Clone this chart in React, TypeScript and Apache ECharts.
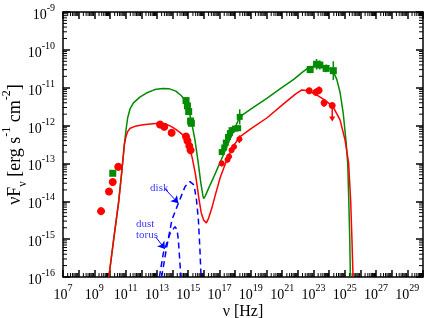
import React, { useEffect, useRef } from "react";
import * as echarts from "echarts";

// axis ranges (log10 of nu [Hz] and log10 of nuF_nu)
const X_MIN = 7;
const X_MAX = 30;
const Y_MIN = -16;
const Y_MAX = -9;

// observed data: [log10 nu, log10 nuFnu]
const redRadio = [[9.43, -14.26], [9.94, -13.74], [10.18, -13.49], [10.53, -13.09]];
const greenRadio = [[10.18, -13.26]];
const redOptical = [[13.2, -11.97], [13.47, -12.03], [13.94, -12.19], [14.86, -12.29], [14.95, -12.4], [15.07, -12.54], [15.15, -12.65]];
const greenOptical = [[14.86, -11.34], [14.95, -11.48], [15.03, -11.63], [15.15, -11.88], [15.2, -11.94]];
// [log nu, log nuFnu, x error, y error]
const redXray = [[17.14, -13.0, 0.05, 0.08], [17.51, -12.9, 0.05, 0.08], [17.61, -12.82, 0.05, 0.08], [17.77, -12.65, 0.05, 0.08], [17.93, -12.56, 0.05, 0.08], [18.27, -12.36, 0.05, 0.1]];
const greenXray = [[17.14, -12.7, 0.05, 0.08], [17.3, -12.58, 0.05, 0.08], [17.4, -12.45, 0.05, 0.08], [17.54, -12.3, 0.05, 0.08], [17.66, -12.2, 0.05, 0.08], [17.77, -12.12, 0.05, 0.08], [17.98, -12.08, 0.05, 0.08], [18.19, -12.07, 0.05, 0.08], [18.29, -11.77, 0.05, 0.2]];
const redGamma = [[22.73, -11.08, 0.125, 0.08], [23.15, -11.12, 0.125, 0.1], [23.36, -11.07, 0.125, 0.1], [23.68, -11.4, 0.125, 0.1]];
const redGammaUL = [[24.2, -11.47, 0.125, 0.42]];
const greenGamma = [[22.79, -10.52, 0.125, 0.1], [23.2, -10.38, 0.125, 0.14], [23.41, -10.4, 0.125, 0.12], [23.81, -10.49, 0.125, 0.1], [24.27, -10.55, 0.125, 0.25]];

// models
const greenModel = [[9.93, -16.0], [10.24, -15.0], [10.56, -14.0], [10.76, -13.2], [10.92, -12.5], [11.03, -12.1], [11.13, -11.8], [11.29, -11.55], [11.5, -11.4], [11.91, -11.25], [12.33, -11.14], [12.86, -11.05], [13.38, -11.02], [13.8, -11.03], [14.21, -11.09], [14.53, -11.2], [14.79, -11.32], [15.0, -11.55], [15.21, -11.9], [15.42, -12.35], [15.63, -12.95], [15.8, -13.5], [15.94, -13.86], [15.99, -13.93], [16.1, -13.85], [16.3, -13.66], [16.62, -13.37], [16.83, -13.17], [17.25, -12.77], [17.66, -12.37], [17.98, -12.07], [18.29, -11.77], [19.02, -11.56], [20.02, -11.28], [20.91, -11.02], [21.74, -10.78], [22.26, -10.6], [22.58, -10.5], [23.0, -10.43], [23.41, -10.4], [23.83, -10.44], [24.25, -10.56], [24.49, -10.78], [24.7, -11.12], [24.91, -11.7], [25.09, -12.45], [25.19, -13.0], [25.26, -14.0], [25.32, -15.0], [25.36, -16.0]];
const redModel = [[9.93, -16.0], [10.24, -15.0], [10.56, -14.0], [10.76, -13.2], [10.92, -12.5], [11.03, -12.28], [11.13, -12.16], [11.29, -12.07], [11.6, -12.02], [12.12, -11.98], [12.75, -11.95], [13.2, -11.94], [13.59, -11.96], [13.9, -12.02], [14.21, -12.1], [14.53, -12.2], [14.84, -12.32], [15.05, -12.52], [15.26, -12.86], [15.47, -13.3], [15.68, -13.92], [15.83, -14.3], [15.99, -14.5], [16.16, -14.57], [16.3, -14.45], [16.51, -14.18], [16.72, -13.85], [17.04, -13.38], [17.45, -12.92], [17.87, -12.55], [18.29, -12.3], [19.13, -12.05], [20.02, -11.8], [21.11, -11.42], [21.85, -11.17], [22.26, -11.06], [22.68, -11.08], [23.2, -11.19], [23.73, -11.33], [24.25, -11.5], [24.7, -11.85], [25.02, -12.38], [25.25, -13.0], [25.38, -14.0], [25.46, -15.0], [25.53, -16.0]];
const diskModel = [[13.3, -16.0], [13.63, -15.2], [13.96, -14.49], [14.37, -14.05], [14.8, -13.61], [15.11, -13.48], [15.37, -13.57], [15.53, -13.97], [15.65, -14.49], [15.75, -15.29], [15.82, -16.0]];
const torusModel = [[13.16, -16.0], [13.41, -15.37], [13.84, -14.85], [14.16, -14.67], [14.29, -14.76], [14.37, -15.02], [14.53, -16.0]];

// annotations
const annotationLabels = [
  { name: "disk", value: [12.56, -13.61] },
  { name: "dust\ntorus", value: [11.66, -14.71] },
];
const annotationArrows = [
  [[13.53, -13.68], [14.37, -14.05]],
  [[12.94, -14.95], [13.51, -15.26]],
];

const RED = "#ff0000";
const GREEN = "#008b00";
const BLUE = "#0000ff";
const SERIF = "'Liberation Serif', 'DejaVu Serif', serif";

const minorX: number[][] = [];
for (let n = X_MIN; n < X_MAX; n++) for (let k = 2; k <= 9; k++) minorX.push([n + Math.log10(k), Y_MIN]);
const minorY: number[][] = [];
for (let n = Y_MIN; n < Y_MAX; n++) for (let k = 2; k <= 9; k++) minorY.push([X_MIN, n + Math.log10(k)]);

const tickRich = {
  b: { fontSize: 14, fontFamily: SERIF, color: "#000", padding: [5, 0, 0, 0] },
  s: { fontSize: 10, fontFamily: SERIF, color: "#000", verticalAlign: "top" },
};

function minorRender(axis: "x" | "y") {
  return (params: any, api: any) => {
    const cs = params.coordSys;
    const p = api.coord([api.value(0), api.value(1)]);
    const st = { stroke: "#000", lineWidth: 1 };
    if (axis === "x") {
      const yb = cs.y + cs.height;
      const yt = cs.y;
      return {
        type: "group",
        children: [
          { type: "line", shape: { x1: p[0], y1: yb, x2: p[0], y2: yb - 4 }, style: st },
          { type: "line", shape: { x1: p[0], y1: yt, x2: p[0], y2: yt + 4 }, style: st },
        ],
      };
    }
    const xl = cs.x;
    const xr = cs.x + cs.width;
    return {
      type: "group",
      children: [
        { type: "line", shape: { x1: xl, y1: p[1], x2: xl + 4, y2: p[1] }, style: st },
        { type: "line", shape: { x1: xr, y1: p[1], x2: xr - 4, y2: p[1] }, style: st },
      ],
    };
  };
}

function errRender(color: string) {
  return (_params: any, api: any) => {
    const x = api.value(0), y = api.value(1), xe = api.value(2), ye = api.value(3);
    const l = api.coord([x - xe, y]);
    const r = api.coord([x + xe, y]);
    const b = api.coord([x, y - ye]);
    const t = api.coord([x, y + ye]);
    const st = { stroke: color, lineWidth: 1.5 };
    return {
      type: "group",
      children: [
        { type: "line", shape: { x1: l[0], y1: l[1], x2: r[0], y2: r[1] }, style: st },
        { type: "line", shape: { x1: b[0], y1: b[1], x2: t[0], y2: t[1] }, style: st },
      ],
    };
  };
}

function ulRender(color: string) {
  return (_params: any, api: any) => {
    const x = api.value(0), y = api.value(1), xe = api.value(2), len = api.value(3);
    const p0 = api.coord([x, y]);
    const p1 = api.coord([x, y - len]);
    const l = api.coord([x - xe, y]);
    const r = api.coord([x + xe, y]);
    const st = { stroke: color, lineWidth: 1.5 };
    return {
      type: "group",
      children: [
        { type: "line", shape: { x1: l[0], y1: l[1], x2: r[0], y2: r[1] }, style: st },
        { type: "line", shape: { x1: p0[0], y1: p0[1], x2: p1[0], y2: p1[1] - 3 }, style: st },
        { type: "polygon", shape: { points: [[p1[0] - 3, p1[1] - 5], [p1[0] + 3, p1[1] - 5], [p1[0], p1[1]]] }, style: { fill: color } },
      ],
    };
  };
}

const axisCommon = {
  type: "value",
  splitLine: { show: false },
  axisLine: { show: true, onZero: false, lineStyle: { color: "#000", width: 1.5 } },
  axisTick: { show: true, inside: true, length: 7, lineStyle: { color: "#000", width: 1.5 } },
};

export default function App() {
  const ref = useRef<HTMLDivElement>(null);
  useEffect(() => {
    if (!ref.current) return;
    const chart = echarts.init(ref.current, undefined, { renderer: "svg" });
    const lineSeries = (data: number[][], color: string, dashed = false) => ({
      type: "line",
      data,
      symbol: "none",
      showSymbol: false,
      clip: true,
      lineStyle: { color, width: 1.5, type: dashed ? [6, 4] : "solid" },
      silent: true,
      z: 2,
    });
    const scatter = (data: number[][], color: string, symbol: string, size: number) => ({
      type: "scatter",
      data: data.map((d) => [d[0], d[1]]),
      symbol,
      symbolSize: size,
      itemStyle: { color, opacity: 1 },
      silent: true,
      z: 4,
    });
    const errSeries = (data: number[][], color: string) => ({
      type: "custom",
      data,
      renderItem: errRender(color),
      silent: true,
      z: 3,
    });
    chart.setOption({
      animation: false,
      grid: { left: 63, right: 6, top: 12, bottom: 41, containLabel: false, outerBoundsMode: "none" },
      xAxis: [
        {
          ...axisCommon,
          min: X_MIN,
          max: X_MAX,
          interval: 1,
          position: "bottom",
          name: "ν [Hz]",
          nameLocation: "middle",
          nameGap: 25,
          nameMoveOverlap: false,
          nameTextStyle: { fontFamily: SERIF, fontSize: 16, color: "#000", verticalAlign: "top" },
          axisLabel: {
            show: true,
            margin: 5,
            formatter: (v: number) => (Math.abs(Math.round(v)) % 2 === 1 ? `{b|10}{s|${Math.round(v)}}` : ""),
            rich: tickRich,
          },
        },
        {
          ...axisCommon,
          min: X_MIN,
          max: X_MAX,
          interval: 1,
          position: "top",
          axisLabel: { show: false },
        },
      ],
      yAxis: [
        {
          ...axisCommon,
          min: Y_MIN,
          max: Y_MAX,
          interval: 1,
          position: "left",
          name: "{a|νF}{sub|ν}{a| [erg s}{sup|-1}{a| cm}{sup|-2}{a|]}",
          nameLocation: "middle",
          nameRotate: 90,
          nameGap: 35,
          nameMoveOverlap: false,
          nameTextStyle: {
            color: "#000",
            rich: {
              a: { fontFamily: SERIF, fontSize: 18, color: "#000", padding: [5, 0, 5, 0] },
              sub: { fontFamily: SERIF, fontSize: 12, color: "#000", verticalAlign: "bottom" },
              sup: { fontFamily: SERIF, fontSize: 12, color: "#000", verticalAlign: "top" },
            },
          },
          axisLabel: {
            show: true,
            margin: 8,
            formatter: (v: number) => `{b|10}{s|${Math.round(v)}}`,
            rich: tickRich,
          },
        },
        {
          ...axisCommon,
          min: Y_MIN,
          max: Y_MAX,
          interval: 1,
          position: "right",
          axisLabel: { show: false },
        },
      ],
      series: [
        { type: "custom", data: minorX, renderItem: minorRender("x"), silent: true, z: 1 },
        { type: "custom", data: minorY, renderItem: minorRender("y"), silent: true, z: 1 },
        lineSeries(greenModel, GREEN),
        lineSeries(redModel, RED),
        lineSeries(diskModel, BLUE, true),
        {
          ...lineSeries(torusModel, BLUE, true),
          markLine: {
            silent: true,
            symbol: ["none", "arrow"],
            symbolSize: 7,
            label: { show: false },
            lineStyle: { color: BLUE, type: "solid", width: 1 },
            data: annotationArrows.map((a) => [{ coord: a[0] }, { coord: a[1] }]),
          },
        },
        errSeries(greenXray, GREEN),
        errSeries(redXray, RED),
        errSeries(greenGamma, GREEN),
        errSeries(redGamma, RED),
        { type: "custom", data: redGammaUL, renderItem: ulRender(RED), silent: true, z: 3 },
        scatter(redRadio, RED, "circle", 8),
        scatter(greenRadio, GREEN, "rect", 7),
        scatter(redOptical, RED, "circle", 8),
        scatter(greenOptical, GREEN, "rect", 7),
        scatter(greenXray, GREEN, "rect", 6),
        scatter(redXray, RED, "circle", 6),
        scatter(greenGamma, GREEN, "rect", 7),
        scatter(redGamma, RED, "circle", 7),
        scatter(redGammaUL, RED, "circle", 7),
        {
          type: "scatter",
          data: annotationLabels,
          symbolSize: 0.1,
          itemStyle: { color: "transparent" },
          silent: true,
          z: 5,
          label: {
            show: true,
            position: "right",
            distance: 0,
            formatter: (p: any) => p.name,
            color: BLUE,
            fontFamily: SERIF,
            fontSize: 11,
            lineHeight: 11,
            align: "left",
          },
        },
      ],
    });
    return () => chart.dispose();
  }, []);
  return <div ref={ref} style={{ position: "fixed", left: 0, top: 0, width: 429, height: 318 }} />;
}
